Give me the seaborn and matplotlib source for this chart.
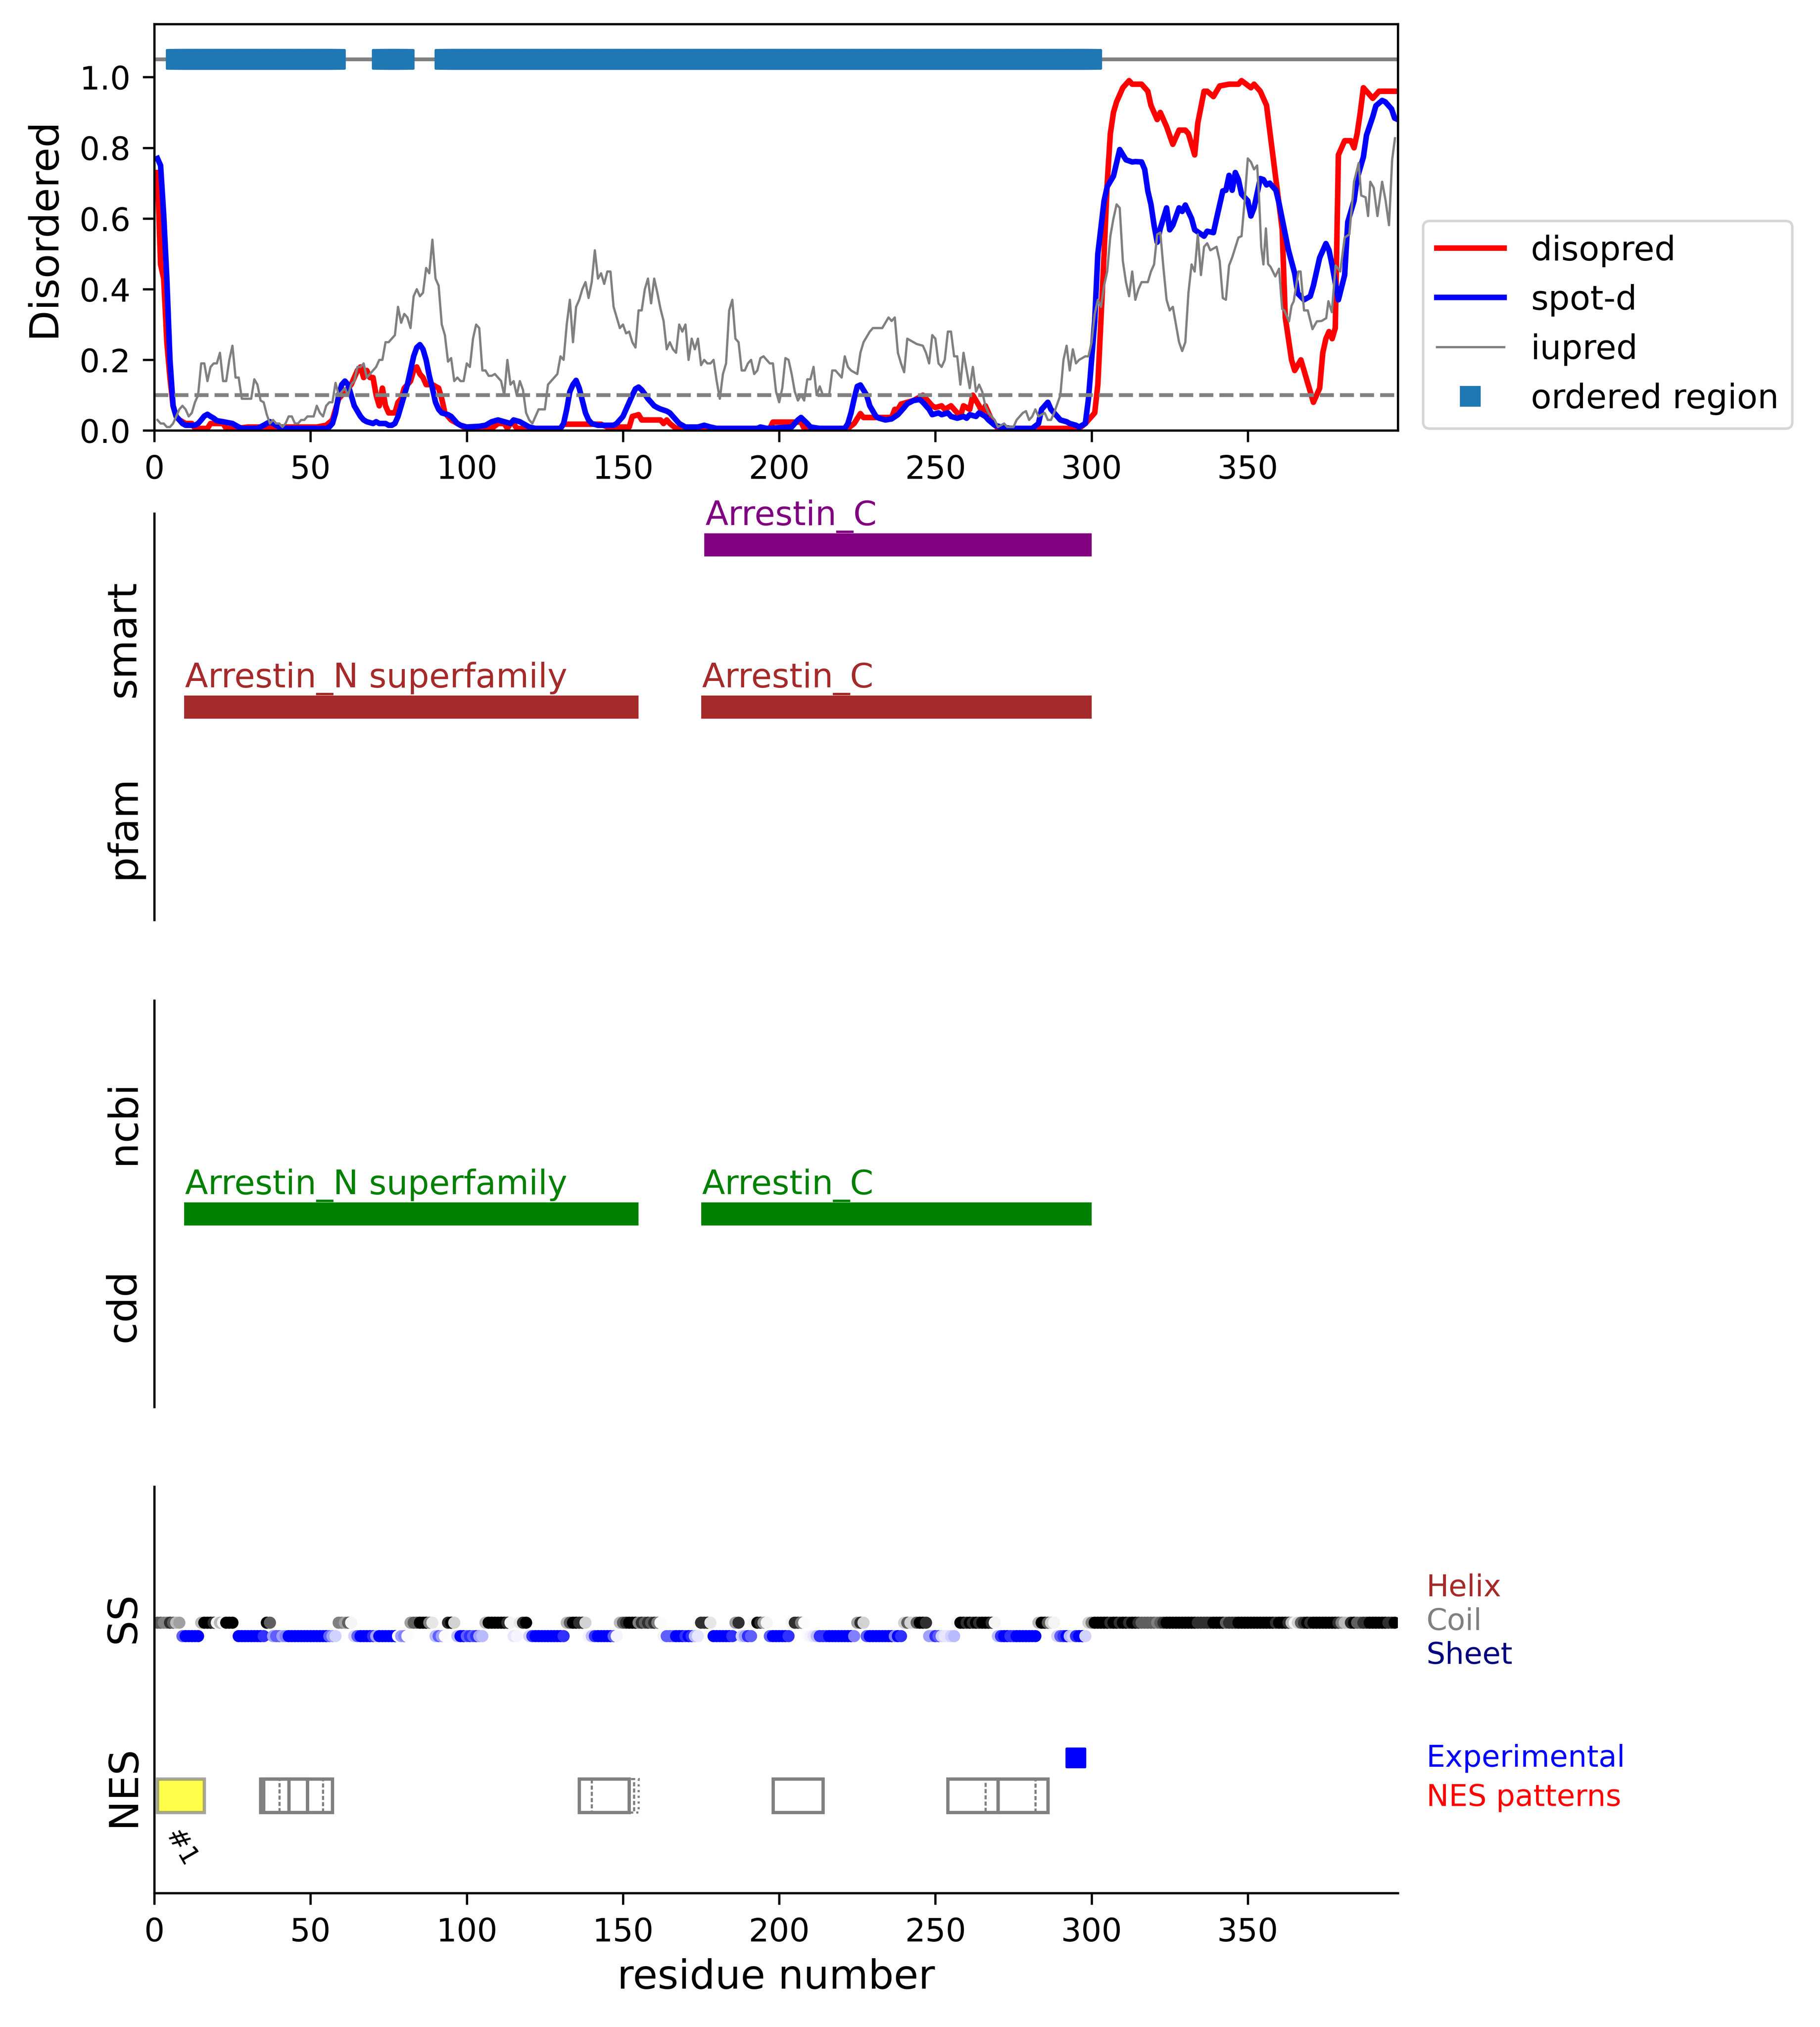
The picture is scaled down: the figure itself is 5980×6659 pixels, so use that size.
import matplotlib
matplotlib.use("Agg")
import matplotlib.pyplot as plt
from matplotlib.lines import Line2D
from matplotlib.patches import Rectangle
import seaborn as sns

seq_len = 398

# disorder scores (residue, score)
disopred_res = [1, 2, 3, 4, 5, 6, 7, 8, 10, 12, 13, 17, 18, 22, 23, 26, 30, 40, 52, 55,
                57, 58, 59, 61, 63, 64, 65, 66, 67, 68, 69, 70, 71, 72, 73, 74, 75, 77, 78, 79,
                80, 82, 83, 84, 85, 86, 87, 89, 91, 92, 93, 95, 97, 99, 108, 110, 112, 113, 114, 115,
                116, 130, 131, 143, 145, 152, 153, 155, 156, 162, 163, 164, 165, 167, 197, 198, 207, 208, 222, 224,
                226, 227, 236, 237, 238, 239, 241, 243, 246, 247, 249, 250, 252, 253, 255, 256, 258, 259, 261, 262,
                264, 265, 266, 268, 270, 296, 298, 301, 302, 304, 305, 306, 307, 308, 310, 312, 313, 316, 318, 319,
                321, 322, 324, 326, 328, 330, 331, 333, 334, 336, 337, 339, 341, 344, 347, 348, 351, 352, 354, 356,
                358, 359, 361, 362, 364, 365, 367, 368, 370, 371, 373, 374, 375, 376, 377, 378, 379, 381, 383, 384,
                385, 386, 387, 388, 390, 392, 398]
disopred_val = [0.73, 0.47, 0.43, 0.25, 0.15, 0.07, 0.04, 0.03, 0.02, 0.02, 0.006, 0.006, 0.02, 0.02, 0.006, 0.006, 0.01, 0.01, 0.01, 0.015,
                0.03, 0.06, 0.09, 0.11, 0.13, 0.15, 0.17, 0.18, 0.15, 0.17, 0.15, 0.15, 0.10, 0.07, 0.12, 0.07, 0.05, 0.05, 0.08, 0.09,
                0.12, 0.14, 0.17, 0.18, 0.16, 0.15, 0.13, 0.13, 0.12, 0.09, 0.05, 0.03, 0.02, 0.01, 0.006, 0.02, 0.02, 0.006, 0.02, 0.02,
                0.006, 0.006, 0.018, 0.018, 0.01, 0.01, 0.04, 0.045, 0.03, 0.03, 0.02, 0.03, 0.02, 0.006, 0.006, 0.024, 0.024, 0.006, 0.006, 0.02,
                0.048, 0.037, 0.037, 0.06, 0.06, 0.075, 0.08, 0.085, 0.10, 0.09, 0.07, 0.065, 0.07, 0.06, 0.07, 0.06, 0.04, 0.07, 0.06, 0.10,
                0.07, 0.05, 0.07, 0.03, 0.006, 0.006, 0.02, 0.05, 0.13, 0.50, 0.70, 0.84, 0.90, 0.93, 0.97, 0.99, 0.98, 0.98, 0.96, 0.92,
                0.88, 0.90, 0.86, 0.81, 0.85, 0.85, 0.84, 0.78, 0.87, 0.96, 0.96, 0.945, 0.975, 0.98, 0.98, 0.99, 0.97, 0.98, 0.96, 0.92,
                0.78, 0.71, 0.57, 0.32, 0.20, 0.17, 0.20, 0.17, 0.11, 0.08, 0.12, 0.22, 0.26, 0.28, 0.26, 0.29, 0.78, 0.82, 0.82, 0.80,
                0.84, 0.90, 0.97, 0.96, 0.94, 0.96, 0.96]

spotd_res = [1, 2, 3, 4, 5, 6, 7, 8, 9, 10, 13, 14, 15, 16, 17, 18, 19, 20, 22, 25,
             27, 28, 33, 35, 36, 37, 38, 39, 40, 42, 55, 56, 57, 58, 59, 60, 61, 62, 63, 64,
             65, 66, 67, 68, 70, 71, 72, 74, 75, 76, 77, 78, 79, 80, 81, 82, 83, 84, 85, 86,
             87, 88, 89, 90, 91, 92, 94, 95, 96, 97, 98, 100, 104, 106, 108, 110, 112, 114, 115, 117,
             118, 120, 122, 130, 131, 132, 133, 134, 135, 136, 137, 138, 139, 140, 142, 147, 148, 149, 150, 151,
             152, 153, 154, 155, 156, 157, 158, 159, 160, 161, 162, 164, 165, 166, 167, 168, 169, 170, 174, 176,
             178, 180, 193, 194, 196, 204, 206, 207, 209, 210, 213, 221, 222, 223, 224, 225, 226, 228, 229, 231,
             232, 234, 236, 238, 240, 241, 243, 245, 246, 248, 249, 251, 252, 254, 255, 257, 259, 260, 261, 263,
             264, 266, 267, 269, 271, 274, 281, 283, 284, 286, 287, 289, 290, 292, 293, 295, 296, 298, 299, 301,
             302, 304, 305, 307, 309, 311, 313, 314, 316, 317, 318, 319, 320, 321, 322, 324, 325, 326, 328, 329,
             330, 332, 333, 336, 337, 339, 340, 342, 343, 344, 345, 346, 347, 348, 350, 351, 352, 354, 355, 356,
             357, 359, 360, 362, 363, 365, 366, 368, 370, 371, 373, 375, 376, 377, 379, 381, 382, 384, 385, 387,
             388, 390, 391, 393, 394, 396, 397, 398]
spotd_val = [0.77, 0.75, 0.61, 0.43, 0.20, 0.07, 0.04, 0.03, 0.02, 0.015, 0.015, 0.02, 0.03, 0.041, 0.046, 0.04, 0.035, 0.028, 0.025, 0.02,
             0.01, 0.006, 0.006, 0.015, 0.02, 0.025, 0.02, 0.015, 0.01, 0.006, 0.006, 0.01, 0.02, 0.05, 0.10, 0.13, 0.14, 0.13, 0.10, 0.07,
             0.055, 0.04, 0.03, 0.025, 0.02, 0.025, 0.02, 0.02, 0.015, 0.015, 0.02, 0.04, 0.07, 0.10, 0.13, 0.17, 0.21, 0.235, 0.243, 0.23,
             0.20, 0.155, 0.12, 0.08, 0.06, 0.05, 0.045, 0.04, 0.03, 0.02, 0.015, 0.01, 0.012, 0.015, 0.025, 0.03, 0.025, 0.02, 0.03, 0.025,
             0.02, 0.01, 0.006, 0.006, 0.02, 0.06, 0.11, 0.13, 0.142, 0.12, 0.085, 0.05, 0.03, 0.02, 0.015, 0.015, 0.02, 0.03, 0.04, 0.06,
             0.08, 0.10, 0.118, 0.123, 0.115, 0.103, 0.09, 0.08, 0.07, 0.065, 0.061, 0.055, 0.05, 0.04, 0.03, 0.02, 0.015, 0.01, 0.01, 0.015,
             0.01, 0.006, 0.006, 0.01, 0.006, 0.01, 0.03, 0.037, 0.02, 0.01, 0.006, 0.006, 0.02, 0.05, 0.09, 0.125, 0.129, 0.10, 0.07, 0.04,
             0.035, 0.03, 0.033, 0.045, 0.065, 0.076, 0.085, 0.088, 0.08, 0.06, 0.045, 0.05, 0.045, 0.05, 0.04, 0.035, 0.04, 0.035, 0.045, 0.04,
             0.05, 0.04, 0.03, 0.015, 0.01, 0.006, 0.006, 0.02, 0.06, 0.08, 0.06, 0.04, 0.03, 0.025, 0.02, 0.015, 0.01, 0.02, 0.09, 0.31,
             0.50, 0.65, 0.69, 0.72, 0.795, 0.766, 0.76, 0.761, 0.76, 0.739, 0.678, 0.64, 0.581, 0.533, 0.572, 0.63, 0.568, 0.581, 0.63, 0.62,
             0.638, 0.60, 0.568, 0.55, 0.564, 0.56, 0.60, 0.678, 0.68, 0.722, 0.68, 0.73, 0.71, 0.669, 0.65, 0.607, 0.63, 0.713, 0.71, 0.695,
             0.70, 0.68, 0.643, 0.555, 0.511, 0.445, 0.388, 0.37, 0.38, 0.41, 0.489, 0.529, 0.51, 0.467, 0.37, 0.44, 0.59, 0.65, 0.713, 0.774,
             0.836, 0.888, 0.919, 0.934, 0.93, 0.91, 0.884, 0.88]

iupred_res = [1, 2, 3, 4, 5, 6, 7, 8, 9, 10, 11, 12, 13, 14, 15, 16, 17, 18, 19, 20,
              21, 22, 23, 24, 25, 26, 27, 28, 29, 30, 31, 32, 33, 34, 35, 36, 37, 38, 39, 40,
              41, 42, 43, 44, 45, 46, 47, 48, 49, 50, 51, 52, 53, 54, 55, 56, 57, 58, 59, 60,
              61, 62, 63, 64, 65, 66, 67, 68, 69, 70, 71, 72, 73, 74, 75, 76, 77, 78, 79, 80,
              81, 82, 83, 84, 85, 86, 87, 88, 89, 90, 91, 92, 93, 94, 95, 96, 97, 98, 99, 100,
              101, 102, 103, 104, 105, 106, 107, 108, 109, 110, 111, 112, 113, 114, 115, 116, 117, 118, 119, 120,
              121, 122, 123, 124, 125, 126, 127, 128, 129, 130, 131, 132, 133, 134, 135, 136, 137, 138, 139, 140,
              141, 142, 143, 144, 145, 146, 147, 148, 149, 150, 151, 152, 153, 154, 155, 156, 157, 158, 159, 160,
              161, 162, 163, 164, 165, 166, 167, 168, 169, 170, 171, 172, 173, 174, 175, 176, 177, 178, 179, 180,
              181, 182, 183, 184, 185, 186, 187, 188, 189, 190, 191, 192, 193, 194, 195, 197, 198, 199, 200, 201,
              202, 203, 204, 205, 206, 207, 208, 209, 210, 211, 212, 213, 214, 216, 217, 218, 220, 221, 222, 223,
              225, 226, 227, 229, 230, 232, 233, 235, 236, 237, 238, 239, 240, 241, 243, 244, 246, 247, 248, 249,
              250, 251, 252, 253, 254, 255, 256, 257, 258, 259, 260, 261, 262, 263, 264, 265, 266, 267, 269, 270,
              272, 273, 275, 276, 278, 279, 280, 281, 282, 283, 285, 286, 287, 288, 290, 291, 292, 293, 294, 295,
              296, 298, 299, 300, 301, 302, 303, 304, 305, 306, 307, 308, 309, 310, 311, 312, 313, 314, 315, 316,
              318, 319, 320, 321, 322, 323, 324, 325, 326, 327, 328, 329, 330, 331, 332, 333, 334, 335, 336, 337,
              338, 340, 341, 342, 343, 344, 345, 347, 348, 349, 350, 351, 352, 353, 353.6, 354.3, 355, 355.8, 356.5, 357.3,
              358.8, 360, 361, 361.7, 363.2, 364, 364.7, 366.2, 366.9, 368, 369.2, 370.7, 372.1, 373.6, 375.1, 375.8, 376.9, 378.1, 379.6, 381,
              382.5, 384, 385.5, 386.3, 387.7, 388.5, 389.2, 390.3, 391.5, 393, 394.1, 395.2, 396.2, 397.1]
iupred_val = [0.03, 0.02, 0.02, 0.01, 0.01, 0.02, 0.04, 0.06, 0.07, 0.06, 0.04, 0.05, 0.08, 0.10, 0.19, 0.19, 0.14, 0.18, 0.19, 0.19,
              0.22, 0.14, 0.14, 0.20, 0.24, 0.15, 0.15, 0.09, 0.09, 0.09, 0.09, 0.145, 0.13, 0.085, 0.08, 0.045, 0.02, 0.03, 0.02, 0.02,
              0.01, 0.02, 0.04, 0.04, 0.02, 0.02, 0.03, 0.03, 0.04, 0.04, 0.04, 0.07, 0.05, 0.04, 0.07, 0.08, 0.08, 0.135, 0.10, 0.11,
              0.12, 0.10, 0.13, 0.14, 0.18, 0.18, 0.19, 0.15, 0.16, 0.17, 0.18, 0.20, 0.20, 0.25, 0.25, 0.26, 0.27, 0.35, 0.305, 0.33,
              0.32, 0.29, 0.38, 0.40, 0.38, 0.39, 0.46, 0.445, 0.54, 0.43, 0.41, 0.30, 0.27, 0.195, 0.205, 0.14, 0.15, 0.14, 0.14, 0.19,
              0.18, 0.26, 0.30, 0.29, 0.17, 0.17, 0.155, 0.155, 0.16, 0.15, 0.14, 0.10, 0.20, 0.13, 0.14, 0.10, 0.14, 0.115, 0.05, 0.03,
              0.02, 0.04, 0.06, 0.06, 0.06, 0.13, 0.14, 0.15, 0.16, 0.21, 0.20, 0.30, 0.37, 0.25, 0.35, 0.37, 0.40, 0.42, 0.375, 0.42,
              0.51, 0.43, 0.445, 0.415, 0.45, 0.45, 0.35, 0.32, 0.29, 0.30, 0.275, 0.28, 0.25, 0.235, 0.34, 0.34, 0.40, 0.43, 0.36, 0.43,
              0.39, 0.345, 0.31, 0.23, 0.25, 0.23, 0.22, 0.30, 0.28, 0.30, 0.20, 0.26, 0.23, 0.26, 0.185, 0.20, 0.19, 0.19, 0.20, 0.14,
              0.09, 0.16, 0.19, 0.34, 0.37, 0.26, 0.25, 0.17, 0.17, 0.19, 0.20, 0.16, 0.17, 0.205, 0.21, 0.19, 0.19, 0.11, 0.08, 0.12,
              0.205, 0.20, 0.16, 0.11, 0.085, 0.10, 0.085, 0.145, 0.145, 0.18, 0.10, 0.125, 0.10, 0.10, 0.17, 0.17, 0.15, 0.21, 0.18, 0.17,
              0.16, 0.22, 0.25, 0.28, 0.29, 0.29, 0.29, 0.32, 0.31, 0.32, 0.22, 0.19, 0.165, 0.26, 0.25, 0.245, 0.24, 0.22, 0.19, 0.27,
              0.26, 0.19, 0.18, 0.20, 0.28, 0.28, 0.21, 0.21, 0.13, 0.22, 0.17, 0.12, 0.18, 0.11, 0.13, 0.11, 0.07, 0.05, 0.03, 0.01,
              0.02, 0.01, 0.01, 0.03, 0.05, 0.055, 0.03, 0.04, 0.06, 0.04, 0.05, 0.03, 0.03, 0.05, 0.10, 0.20, 0.24, 0.17, 0.23, 0.19,
              0.20, 0.21, 0.21, 0.25, 0.33, 0.37, 0.35, 0.41, 0.45, 0.55, 0.60, 0.64, 0.63, 0.48, 0.42, 0.38, 0.45, 0.37, 0.40, 0.42,
              0.42, 0.45, 0.47, 0.555, 0.56, 0.46, 0.37, 0.34, 0.35, 0.30, 0.25, 0.225, 0.25, 0.39, 0.47, 0.45, 0.555, 0.44, 0.52, 0.53,
              0.51, 0.52, 0.48, 0.375, 0.37, 0.467, 0.49, 0.546, 0.55, 0.651, 0.77, 0.76, 0.739, 0.75, 0.66, 0.52, 0.47, 0.572, 0.471, 0.463,
              0.436, 0.458, 0.344, 0.34, 0.309, 0.353, 0.366, 0.45, 0.45, 0.34, 0.34, 0.287, 0.309, 0.31, 0.318, 0.366, 0.335, 0.467, 0.45, 0.546,
              0.555, 0.704, 0.757, 0.665, 0.66, 0.607, 0.704, 0.687, 0.607, 0.704, 0.651, 0.581, 0.766, 0.827]

ordered_regions = [(7, 58), (73, 80), (93, 300)]
disorder_cutoff = 0.1

# domain annotations: (name, start, end)
smart_domains = [("Arrestin_C", 176, 300)]
pfam_domains = [("Arrestin_N superfamily", 9.5, 155), ("Arrestin_C", 175, 300)]
ncbi_domains = [("Arrestin_N superfamily", 9.5, 155), ("Arrestin_C", 175, 300)]
cdd_domains = []

# secondary structure per residue (C = coil, E = sheet) and confidence 0-9
ss_class = ("CCCCCCCCEE" "EEEECCCCCC" "CCCCCEEEEE" "EEEEECCEEE" "EEEEEEEEEE"
            "EEEEEEEECC" "CCCEEEEEEE" "EEEEEEEEEE" "ECCCCCCCCE" "EEECCCEEEE"
            "EEEEECCCCC" "CCCCEECCCE" "EEEEEEEEEE" "ECCCCCCCEE" "EEEEEEEECC"
            "CCCCCCCCCC" "CCEEEEEEEE" "EEEECCCCEE" "EEEEECCEEE" "ECCCCCEEEE"
            "EEECCCCCEE" "EEEEEEEEEE" "EEEECCCEEE" "EEEEEEEEEC" "CCCCCCCEEE"
            "EEEEEECCCC" "CCCCCCCCCE" "EEEEEEEEEE" "EECCCCCCEE" "EEEEEEEECC"
            "CCCCCCCCCC" "CCCCCCCCCC" "CCCCCCCCCC" "CCCCCCCCCC" "CCCCCCCCCC"
            "CCCCCCCCCC" "CCCCCCCCCC" "CCCCCCCCCC" "CCCCCCCCCC" "CCCCCCC")
ss_conf = ("7766874579" "9999499981" "4199919999" "9999897577" "5699999999"
           "9999975366" "5713799998" "5999999056" "0577999624" "7508934997"
           "8785449999" "9981212893" "8999999999" "8479988314" "8999997147"
           "8999687878" "6017779998" "9842888299" "9999858358" "7198517999"
           "9981886001" "2488899999" "9996583799" "9999996983" "7337998558"
           "7322341998" "9898999814" "8998899999" "9949973137" "8943899336"
           "9999989989" "9899877777" "6789999999" "9998888899" "9978889999"
           "9999999989" "9984137898" "9999999986" "4489778899" "9999889")

# NES predictions: (start, end)
nes_hit = [(1, 16)]
nes_solid = [(34, 49), (35, 49), (43, 57), (136, 152), (198, 214), (254, 270), (270, 286)]
nes_dashed = [(40, 54), (140, 153.5), (266, 282)]
nes_dotted = [(136, 155)]
nes_experimental = [295]

assert len(ss_class) == len(ss_conf)

# ---------------------------------------------------------------- figure
fig = plt.figure(figsize=(10, 6682 / 600))
left, width, height = 0.0848, 0.6832, 0.2005
ax1 = fig.add_axes([left, 0.7875, width, height])
ax2 = fig.add_axes([left, 0.5461, width, height])
ax3 = fig.add_axes([left, 0.3059, width, height])
ax4 = fig.add_axes([left, 0.0661, width, height])

tick_kw = dict(labelsize=12.7, length=4.6, width=0.9, pad=4.8)

# --- disorder panel
sns.lineplot(x=disopred_res, y=disopred_val, color="red", linewidth=2.2, ax=ax1)
sns.lineplot(x=spotd_res, y=spotd_val, color="blue", linewidth=2.2, ax=ax1)
sns.lineplot(x=iupred_res, y=iupred_val, color="gray", linewidth=0.9, ax=ax1)
ax1.axhline(disorder_cutoff, color="gray", ls="--", lw=1.5)
ax1.axhline(1.05, color="gray", lw=1.5)
ord_x = [r for a, b in ordered_regions for r in range(a, b + 1)]
sns.scatterplot(x=ord_x, y=[1.05] * len(ord_x), marker="s", s=53, color="C0",
                edgecolor="C0", linewidth=1, ax=ax1, zorder=3)
ax1.set_xlim(0, seq_len)
ax1.set_ylim(0, 1.15)
ax1.set_yticks([0, 0.2, 0.4, 0.6, 0.8, 1.0])
ax1.set_xticks(range(0, 351, 50))
ax1.set_ylabel("Disordered", fontsize=15.9, labelpad=6.5)
ax1.set_xlabel("")
ax1.tick_params(**tick_kw)
for sp in ax1.spines.values():
    sp.set_linewidth(0.9)

handles = [Line2D([], [], color="red", lw=2.2),
           Line2D([], [], color="blue", lw=2.2),
           Line2D([], [], color="gray", lw=0.9),
           Line2D([], [], color="C0", marker="s", ls="", ms=7.3, mew=1)]
ax1.legend(handles, ["disopred", "spot-d", "iupred", "ordered region"],
           loc="lower left", bbox_to_anchor=(1.0205, 0.005), borderaxespad=0,
           fontsize=13.3)


# --- domain panels
def domain_track(ax, domains, y0, color):
    for name, a, b in domains:
        ax.broken_barh([(a, b - a)], (y0, 0.057), facecolors=color)
        ax.text(a + 0.3, y0 + 0.078, name, color=color, fontsize=13.3, va="baseline", ha="left")


def track_axes(ax, labels, ypos, bottom=False):
    ax.set_xlim(0, seq_len)
    ax.set_ylim(0, 1)
    ax.spines["top"].set_visible(False)
    ax.spines["right"].set_visible(False)
    ax.spines["left"].set_linewidth(0.9)
    ax.set_yticks(ypos)
    ax.set_yticklabels(labels, rotation=90, va="center", fontsize=15.9)
    ax.tick_params(axis="y", length=0, pad=4.6)
    if bottom:
        ax.spines["bottom"].set_linewidth(0.9)
        ax.set_xticks(range(0, 351, 50))
        ax.tick_params(axis="x", **tick_kw)
    else:
        ax.spines["bottom"].set_visible(False)
        ax.set_xticks([])


domain_track(ax2, smart_domains, 0.894, "purple")
domain_track(ax2, pfam_domains, 0.495, "brown")
track_axes(ax2, ["pfam", "smart"], [0.229, 0.692])

domain_track(ax3, ncbi_domains, 0.446, "green")
domain_track(ax3, cdd_domains, 0.05, "darkorange")
track_axes(ax3, ["cdd", "ncbi"], [0.250, 0.700])

# --- secondary structure + NES panel
shade = [0xfc, 0xf4, 0xe6, 0xd2, 0xba, 0xa0, 0x80, 0x5f, 0x30, 0x00]
row_y = {"H": 0.698, "C": 0.665, "E": 0.632}
ss_x, ss_y, ss_col = [], [], []
for i, (cls, lev) in enumerate(zip(ss_class, ss_conf)):
    t = shade[int(lev)]
    if cls == "E":
        col = "#%02x%02xff" % (t, t)
    elif cls == "H":
        col = "#ff%02x%02x" % (t, t)
    else:
        col = "#%02x%02x%02x" % (t, t, t)
    ss_x.append(i + 1)
    ss_y.append(row_y[cls])
    ss_col.append(col)
sns.scatterplot(x=ss_x, y=ss_y, hue=ss_col, palette={c: c for c in set(ss_col)},
                s=23, linewidth=0, legend=False, ax=ax4)

box_y, box_h = 0.198, 0.083
for a, b in nes_hit:
    ax4.add_patch(Rectangle((a, box_y), b - a, box_h, facecolor="yellow",
                            edgecolor="gray", lw=1.3, alpha=0.7))
    ax4.text(a + 0.9, 0.167, "#1", rotation=-60, ha="left", va="top", fontsize=10.4)
for a, b in nes_solid:
    ax4.add_patch(Rectangle((a, box_y), b - a, box_h, fill=False, edgecolor="gray", lw=1.3))
for a, b in nes_dashed:
    ax4.add_patch(Rectangle((a, box_y), b - a, box_h, fill=False, edgecolor="gray",
                            lw=0.85, ls=(0, (1.9, 1.0))))
for a, b in nes_dotted:
    ax4.add_patch(Rectangle((a, box_y), b - a, box_h, fill=False, edgecolor="gray",
                            lw=0.85, ls=":"))
sns.scatterplot(x=nes_experimental, y=[0.332] * len(nes_experimental), marker="s", s=53,
                color="blue", edgecolor="blue", linewidth=1, ax=ax4, zorder=3)

track_axes(ax4, ["NES", "SS"], [0.263, 0.677], bottom=True)
ax4.set_xlabel("residue number", fontsize=15.9)

side_labels = [("Helix", 0.751, "brown"), ("Coil", 0.668, "gray"), ("Sheet", 0.585, "navy"),
               ("Experimental", 0.332, "blue"), ("NES patterns", 0.235, "red")]
for txt, yy, col in side_labels:
    ax4.text(1.023, yy, txt, color=col, fontsize=11.8, va="center", ha="left",
             transform=ax4.transAxes)

# slightly under 600 dpi keeps the picture below 40 Mpx
fig.savefig("out.png", dpi=598)
